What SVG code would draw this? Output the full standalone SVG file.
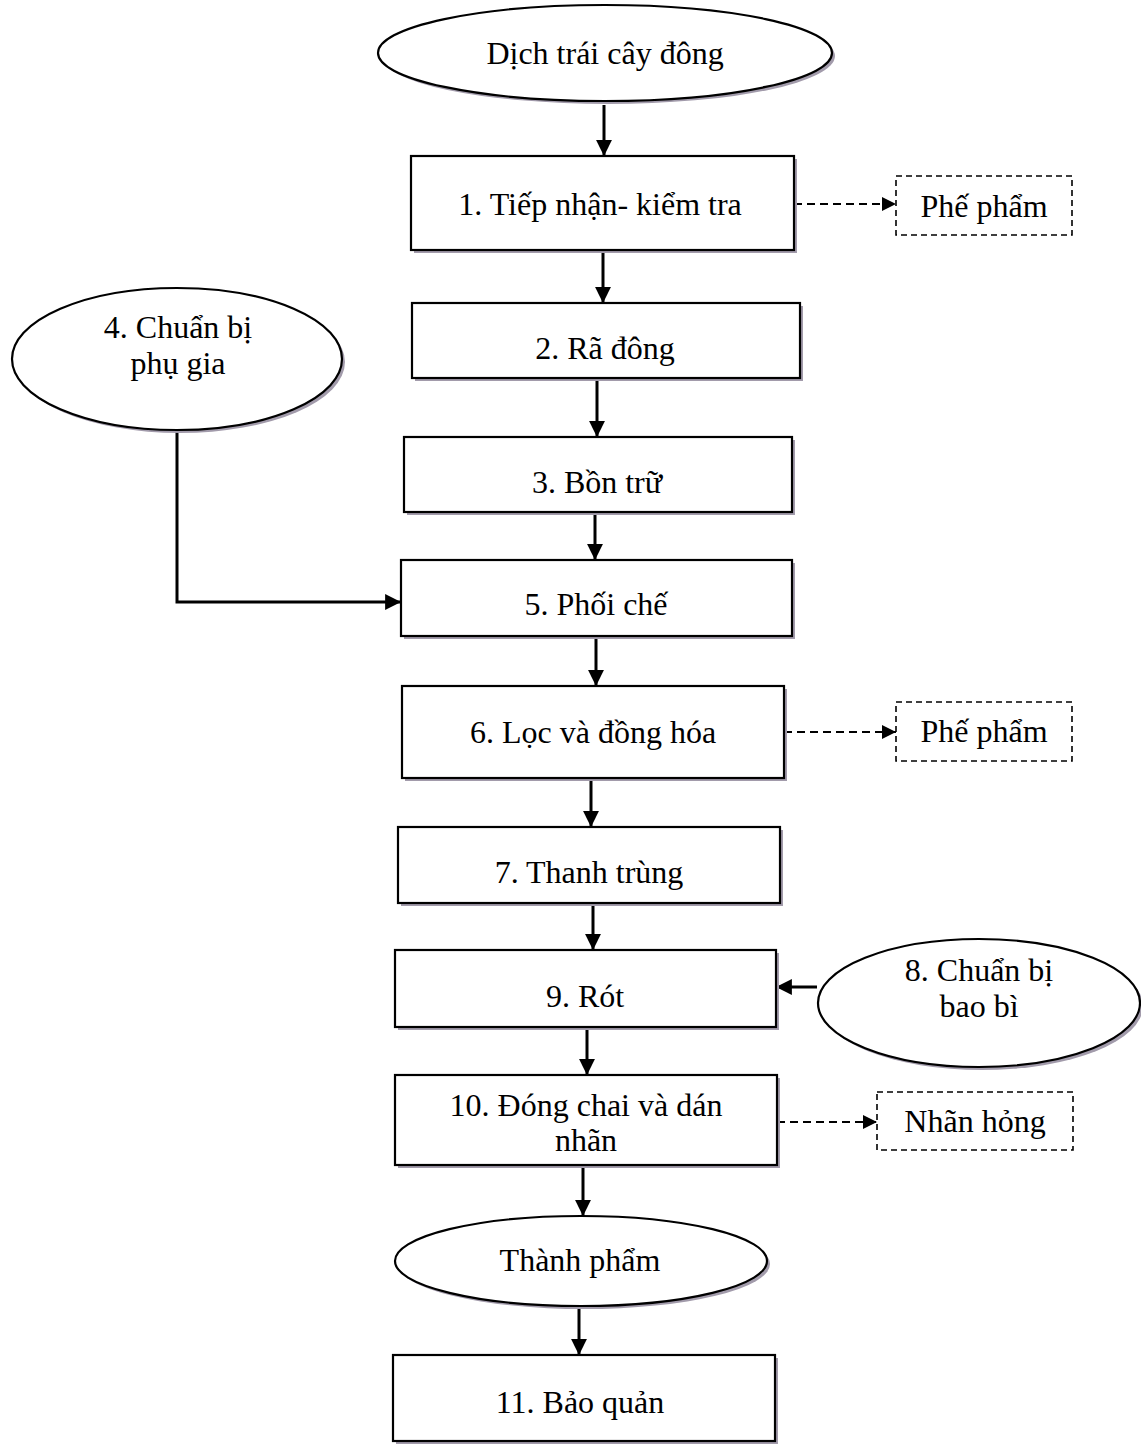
<svg xmlns="http://www.w3.org/2000/svg" width="1141" height="1449" viewBox="0 0 1141 1449">
  <style>
    .box { fill: #ffffff; stroke: #000000; stroke-width: 2.2; }
    .shadow { fill: #a29bab; stroke: none; }
    .dash { fill: #ffffff; stroke: #000000; stroke-width: 1.6; stroke-dasharray: 6 4; }
    .lbl { font-family: "Liberation Serif", "Times New Roman", serif; font-size: 32px; fill: #000000; text-anchor: middle; }
    .flow { fill: none; stroke: #000000; stroke-width: 3; }
    .flowd { fill: none; stroke: #000000; stroke-width: 2.2; stroke-dasharray: 8 5; }
  </style>
  <defs>
    <marker id="arr" viewBox="0 0 10 10" refX="10" refY="5" markerWidth="5.3" markerHeight="5.3" orient="auto" markerUnits="strokeWidth">
      <path d="M0,0 L10,5 L0,10 Z" fill="#000000"/>
    </marker>
    <marker id="arrd" viewBox="0 0 10 10" refX="10" refY="5" markerWidth="6.5" markerHeight="6.5" orient="auto" markerUnits="strokeWidth">
      <path d="M0,0 L10,5 L0,10 Z" fill="#000000"/>
    </marker>
  </defs>

  <!-- connectors -->
  <g id="connectors">
    <path class="flow" d="M604,105 V156" marker-end="url(#arr)"/>
    <path class="flowd" d="M794,204 H896" marker-end="url(#arrd)"/>
    <path class="flow" d="M603,250 V303" marker-end="url(#arr)"/>
    <path class="flow" d="M597,380 V437" marker-end="url(#arr)"/>
    <path class="flow" d="M595,512 V560" marker-end="url(#arr)"/>
    <path class="flow" d="M177,430 V602 H401" marker-end="url(#arr)"/>
    <path class="flow" d="M596,636 V686" marker-end="url(#arr)"/>
    <path class="flowd" d="M784,732 H896" marker-end="url(#arrd)"/>
    <path class="flow" d="M591,778 V827" marker-end="url(#arr)"/>
    <path class="flow" d="M593,903 V950" marker-end="url(#arr)"/>
    <path class="flow" d="M817,987 H776" marker-end="url(#arr)"/>
    <path class="flow" d="M587,1027 V1075" marker-end="url(#arr)"/>
    <path class="flowd" d="M777,1122 H877" marker-end="url(#arrd)"/>
    <path class="flow" d="M583,1165 V1216" marker-end="url(#arr)"/>
    <path class="flow" d="M579,1306 V1355" marker-end="url(#arr)"/>
  </g>

  <!-- start: frozen fruit juice -->
  <g id="n-start">
    <ellipse class="shadow" cx="608" cy="56" rx="227" ry="48"/>
    <ellipse class="box" cx="605" cy="53" rx="227" ry="48"/>
    <text class="lbl" x="605" y="64">Dịch trái cây đông</text>
  </g>

  <g id="n1">
    <rect class="shadow" x="414" y="159" width="383" height="94"/>
    <rect class="box" x="411" y="156" width="383" height="94"/>
    <text class="lbl" x="600" y="215">1. Tiếp nhận- kiểm tra</text>
  </g>

  <g id="w1">
    <rect class="dash" x="896" y="176" width="176" height="59"/>
    <text class="lbl" x="984" y="217">Phế phẩm</text>
  </g>

  <g id="n4">
    <ellipse class="shadow" cx="180" cy="362" rx="165" ry="71"/>
    <ellipse class="box" cx="177" cy="359" rx="165" ry="71"/>
    <text class="lbl" x="178" y="338">4. Chuẩn bị</text>
    <text class="lbl" x="178" y="374">phụ gia</text>
  </g>

  <g id="n2">
    <rect class="shadow" x="415" y="306" width="388" height="75"/>
    <rect class="box" x="412" y="303" width="388" height="75"/>
    <text class="lbl" x="605" y="359">2. Rã đông</text>
  </g>

  <g id="n3">
    <rect class="shadow" x="407" y="440" width="388" height="75"/>
    <rect class="box" x="404" y="437" width="388" height="75"/>
    <text class="lbl" x="597" y="493">3. Bồn trữ</text>
  </g>

  <g id="n5">
    <rect class="shadow" x="404" y="563" width="391" height="76"/>
    <rect class="box" x="401" y="560" width="391" height="76"/>
    <text class="lbl" x="596" y="615">5. Phối chế</text>
  </g>

  <g id="n6">
    <rect class="shadow" x="405" y="689" width="382" height="92"/>
    <rect class="box" x="402" y="686" width="382" height="92"/>
    <text class="lbl" x="593" y="743">6. Lọc và đồng hóa</text>
  </g>

  <g id="w2">
    <rect class="dash" x="896" y="702" width="176" height="59"/>
    <text class="lbl" x="984" y="742">Phế phẩm</text>
  </g>

  <g id="n7">
    <rect class="shadow" x="401" y="830" width="382" height="76"/>
    <rect class="box" x="398" y="827" width="382" height="76"/>
    <text class="lbl" x="589" y="883">7. Thanh trùng</text>
  </g>

  <g id="n9">
    <rect class="shadow" x="398" y="953" width="381" height="77"/>
    <rect class="box" x="395" y="950" width="381" height="77"/>
    <text class="lbl" x="585" y="1007">9. Rót</text>
  </g>

  <g id="n8">
    <ellipse class="shadow" cx="982" cy="1006" rx="161" ry="64"/>
    <ellipse class="box" cx="979" cy="1003" rx="161" ry="64"/>
    <text class="lbl" x="979" y="981">8. Chuẩn bị</text>
    <text class="lbl" x="979" y="1017">bao bì</text>
  </g>

  <g id="n10">
    <rect class="shadow" x="398" y="1078" width="382" height="90"/>
    <rect class="box" x="395" y="1075" width="382" height="90"/>
    <text class="lbl" x="586" y="1116">10. Đóng chai và dán</text>
    <text class="lbl" x="586" y="1151">nhãn</text>
  </g>

  <g id="w3">
    <rect class="dash" x="877" y="1092" width="196" height="58"/>
    <text class="lbl" x="975" y="1132">Nhãn hỏng</text>
  </g>

  <g id="n-product">
    <ellipse class="shadow" cx="584" cy="1264" rx="186" ry="45"/>
    <ellipse class="box" cx="581" cy="1261" rx="186" ry="45"/>
    <text class="lbl" x="580" y="1271">Thành phẩm</text>
  </g>

  <g id="n11">
    <rect class="shadow" x="396" y="1358" width="382" height="86"/>
    <rect class="box" x="393" y="1355" width="382" height="86"/>
    <text class="lbl" x="580" y="1413">11. Bảo quản</text>
  </g>
</svg>
